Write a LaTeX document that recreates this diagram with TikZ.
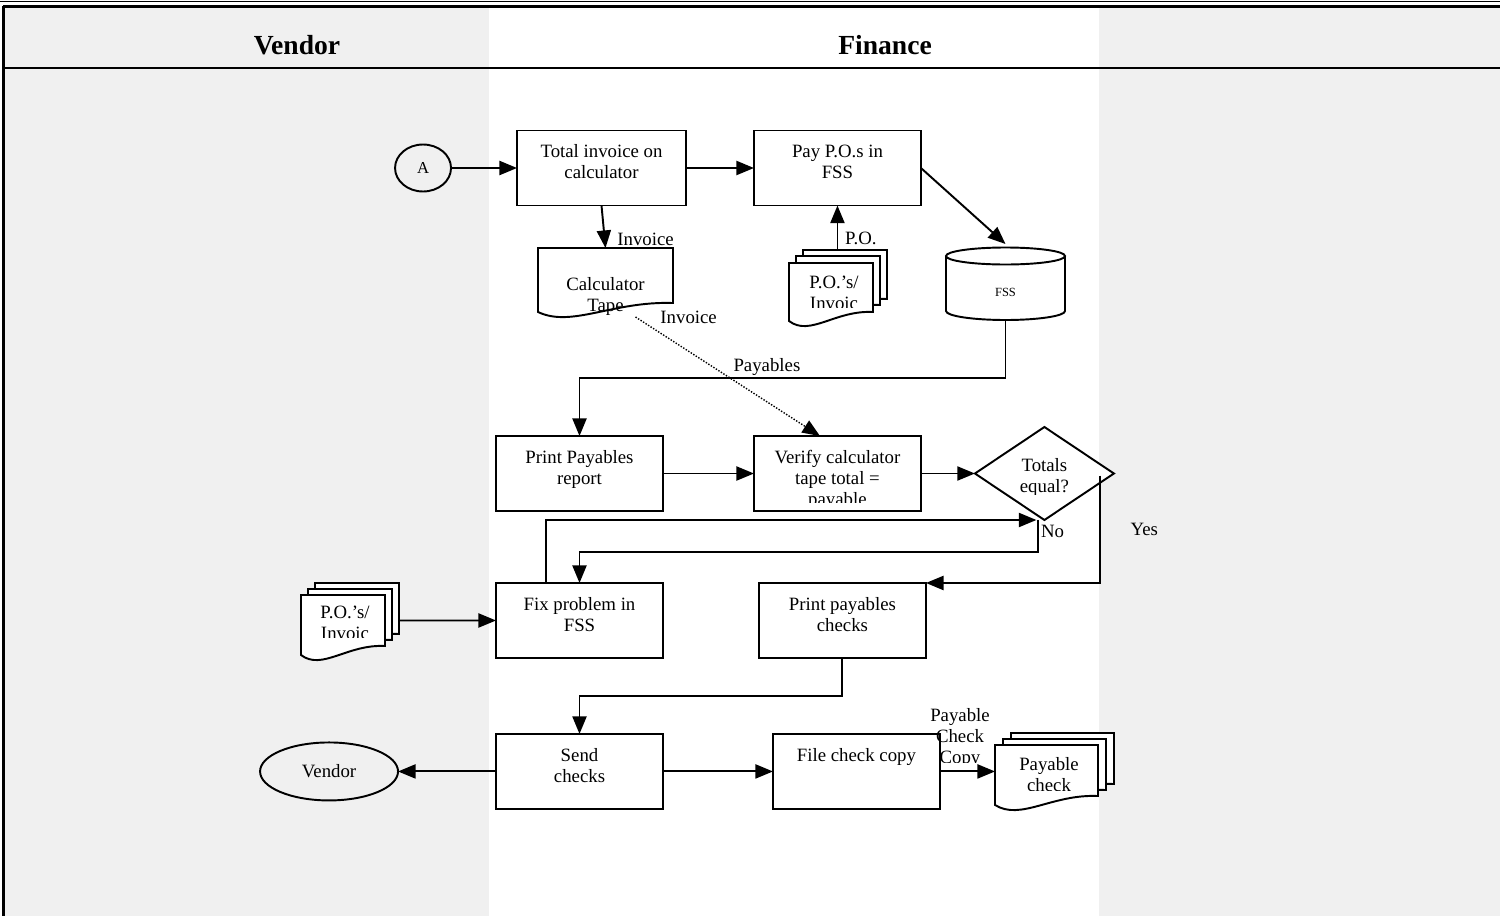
\documentclass[tikz,border=0pt]{standalone}
\usepackage{fontspec}
\setmainfont{Liberation Serif}
\usepackage{xcolor}
\usetikzlibrary{shapes.geometric, arrows.meta, positioning}
\definecolor{lanegray}{HTML}{F0F0F0}

% document outline: left, top, width, height (left end of the wavy bottom)
\newcommand{\docshape}[4]{%
  \draw[docline] (#1,#2) -- (#1+#3,#2) -- (#1+#3,#2+#4-9)
    .. controls (#1+0.55*#3,#2+#4-11) and (#1+0.25*#3,#2+#4+16) .. (#1,#2+#4) -- cycle;}

\begin{document}
\begin{tikzpicture}[x=0.02cm, y=-0.02cm,
    font=\fontsize{10.7}{11.9}\selectfont,
    >={Triangle[length=10pt, width=8pt]},
    procbox/.style={draw, line width=1.1pt, fill=white,
        minimum width=3.34cm, minimum height=1.5cm, inner sep=0, outer sep=0},
    boxtxt/.style={align=center, inner sep=0},
    spot/.style={inner sep=0, outer sep=0},
    lbl/.style={inner sep=1pt},
    flow/.style={->, line width=1.1pt},
    docline/.style={draw, line width=1.1pt, fill=white}]
    \useasboundingbox (0,0) rectangle (1500,916);

    % Add the lanes
    \fill[lanegray] (3,7) rectangle (489,916);
    \fill[lanegray] (1099,7) rectangle (1500,916);
    \draw[line width=0.6pt] (0,1.5) -- (1500,1.5);
    \draw[line width=1.3pt] (3,6.5) -- (1500,6.5);
    \draw[line width=1.3pt] (3.5,6) -- (3.5,916);
    \draw[line width=1.6pt] (3,68) -- (1500,68);
    \node[font=\fontsize{15.7}{18}\selectfont\bfseries] (vendorhd) at (297,45) {Vendor};
    \node[font=\fontsize{15.7}{18}\selectfont\bfseries] (financehd) at (885,45) {Finance};

    % Add the documents
    \docshape{538}{248}{135}{64}
    \docshape{803}{250}{84}{58}
    \docshape{796}{256}{84}{58}
    \docshape{789}{263}{84}{58}
    \docshape{315}{583}{84}{60}
    \docshape{308}{589}{84}{60}
    \docshape{301}{595}{84}{60}
    \docshape{1011}{733}{103}{60}
    \docshape{1003}{739}{103}{60}
    \docshape{995}{745}{103}{60}
    \node[spot, minimum width=2.7cm, minimum height=1.38cm] (calc) at (605.5,282.5) {};
    \node[spot, minimum width=1.96cm, minimum height=1.42cm] (potop) at (838,285.5) {};
    \node[spot, minimum width=1.96cm, minimum height=1.5cm] (postack) at (350,620.5) {};
    \node[spot, minimum width=2.38cm, minimum height=1.5cm] (paychk) at (1054.5,770.5) {};
    \node[boxtxt, anchor=north] (calctxt) at (605.5,277) {Calculator\\Tape};
    \begin{scope}
        \clip (789,263) rectangle (873,307);
        \node[boxtxt, anchor=north] (potoptxt) at (834,276) {P.O.’s/\\Invoic};
    \end{scope}
    \begin{scope}
        \clip (301,595) rectangle (385,637);
        \node[boxtxt, anchor=north] (postacktxt) at (345,606) {P.O.’s/\\Invoic};
    \end{scope}
    \begin{scope}
        \clip (995,745) rectangle (1098,790);
        \node[boxtxt, anchor=north] (paychktxt) at (1049,757) {Payable\\check};
    \end{scope}

    % Add the database
    \draw[line width=1.1pt, fill=white] (946,256) -- (946,311)
        arc[start angle=180, end angle=0, x radius=59.5, y radius=9] -- (1065,256);
    \draw[line width=1.1pt] (1005.5,256) ellipse[x radius=59.5, y radius=8.5];
    \node[spot, minimum width=2.38cm, minimum height=1.52cm] (fss) at (1005.5,282) {};
    \node[font=\fontsize{7.1}{8}\selectfont] (fsstxt) at (1005.5,292) {FSS};

    % Add the steps
    \node[procbox, minimum width=3.38cm] (total) at (601.5,168) {};
    \node[boxtxt, below=0.28cm of total.north] (totaltxt) {Total invoice on\\calculator};
    \node[ellipse, draw, line width=1.1pt,
        minimum width=1.12cm, minimum height=0.94cm, inner sep=0, outer sep=0,
        font=\fontsize{9.5}{11}\selectfont,
        left=1.32cm of total] (conA) {A};
    \node[procbox,
        right=1.36cm of total] (pay) {};
    \node[boxtxt, below=0.28cm of pay.north] (paytxt) {Pay P.O.s in\\FSS};
    \node[procbox] (ppr) at (579.5,473.5) {};
    \node[boxtxt, below=0.28cm of ppr.north] (pprtxt) {Print Payables\\report};
    \node[procbox,
        right=1.82cm of ppr] (verify) {};
    \begin{scope}
        \clip (754,436) rectangle (921,502);
        \node[boxtxt, below=0.28cm of verify.north] (verifytxt) {Verify calculator\\tape total =\\payable};
    \end{scope}
    \node[diamond, draw, line width=1.1pt, fill=white,
        minimum width=2.78cm, minimum height=1.86cm, inner sep=0, outer sep=0,
        right=1.08cm of verify] (dec) {};
    \begin{scope}
        \clip (975,427) rectangle (1114,494);
        \node[boxtxt, below=0.62cm of dec.north] (dectxt) {Totals\\equal?};
    \end{scope}
    \node[procbox,
        below=1.44cm of ppr] (fix) {};
    \node[boxtxt, below=0.28cm of fix.north] (fixtxt) {Fix problem in\\FSS};
    \node[procbox,
        right=1.92cm of fix] (pchk) {};
    \node[boxtxt, below=0.28cm of pchk.north] (pchktxt) {Print payables\\checks};
    \node[procbox,
        below=1.52cm of fix] (send) {};
    \node[boxtxt, below=0.28cm of send.north] (sendtxt) {Send\\checks};
    \node[procbox,
        right=2.2cm of send] (file) {};
    \node[boxtxt, below=0.28cm of file.north] (filetxt) {File check copy};
    \node[ellipse, draw, line width=1.1pt,
        minimum width=2.76cm, minimum height=1.16cm, inner sep=0, outer sep=0,
        left=1.96cm of send] (vendor) {Vendor};

    % Add the flows
    \draw[flow] (conA) -- (total);
    \draw[flow] (total) -- (pay);
    \draw[flow] (total.south) -- node[pos=0.8, right=0.2cm, lbl] (invlbl) {Invoice} (calc.north);
    \draw[flow] (potop.north -| pay.south) -- node[pos=0.25, right=0.1cm, lbl] (polbl) {P.O.} (pay.south);
    \draw[flow] (pay.east) -- (fss.north);
    \draw[flow] (fss.south) -- ++(0,58) -| node[pos=0.28, above, lbl] (paylbl) {Payables} (ppr.north);
    \draw[->, dash pattern=on 0.8pt off 0.9pt, line width=0.8pt] ([xshift=0.6cm]calc.south)
        -- node[at start, right=0.45cm, lbl] (invlbl2) {Invoice} ([xshift=-0.35cm]verify.north);
    \draw[flow] (ppr) -- (verify);
    \draw[flow] (verify) -- (dec);
    \draw[flow] ([xshift=-0.67cm]fix.north) |- ([xshift=-0.16cm]dec.south);
    \draw[flow] ([xshift=-0.12cm]dec.south) -- node[pos=0.35, right, lbl] (nolbl) {No} ++(0,32) -| (fix.north);
    \draw[flow] ([xshift=-0.28cm, yshift=-0.04cm]dec.east) |- node[pos=0.25, right=0.56cm, lbl] (yeslbl) {Yes} (pchk.north east);
    \draw[flow] (postack) -- (fix);
    \draw[flow] (pchk.south) -- ++(0,38) -| (send.north);
    \draw[flow] (send) -- (vendor);
    \draw[flow] (send) -- (file);
    \draw[flow] (file.east) -- (file.east -| paychk.west);
    \begin{scope}
        \clip (900,700) rectangle (1020,762);
        \node[boxtxt, anchor=north] (copylbl) at (960,708) {Payable\\Check\\Copy};
    \end{scope}
\end{tikzpicture}
\end{document}
